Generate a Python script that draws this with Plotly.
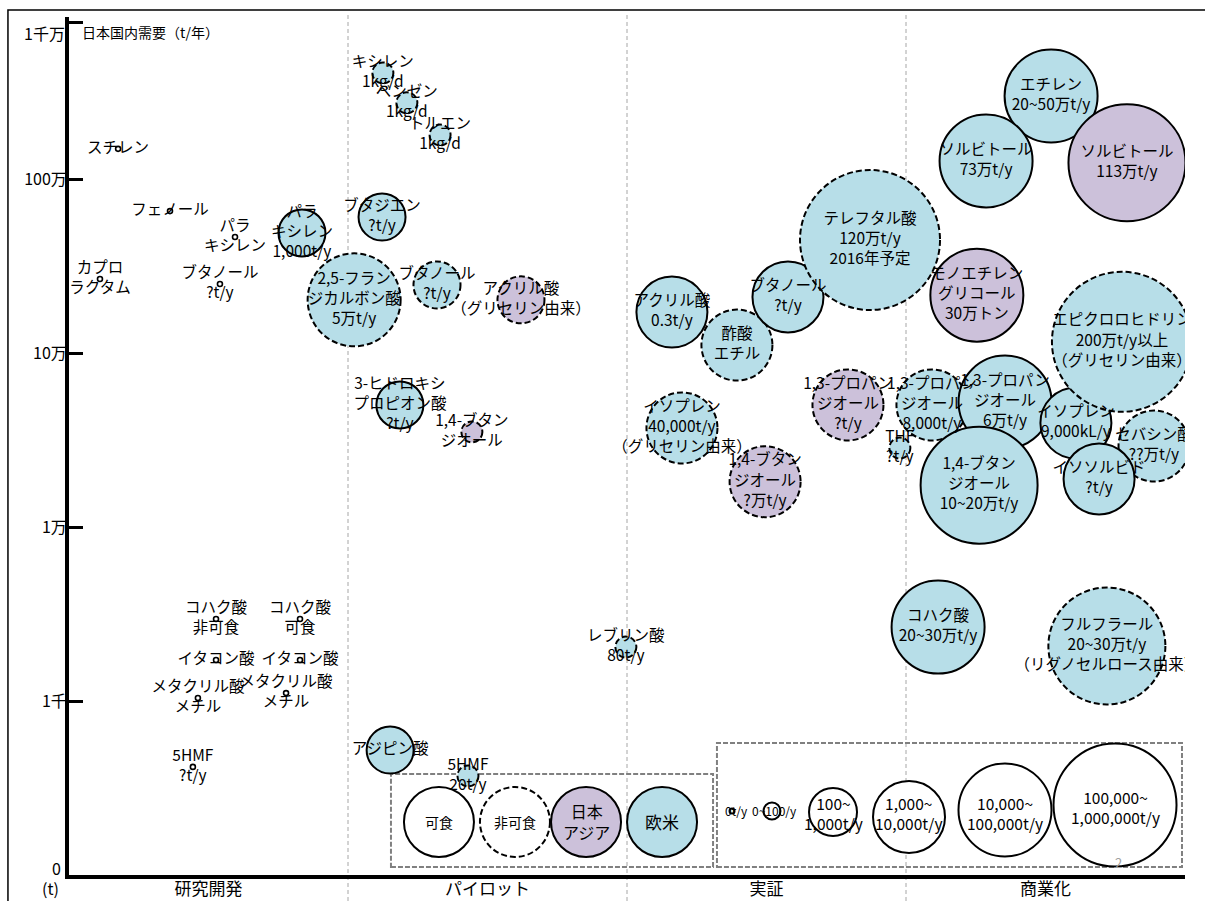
import plotly.graph_objects as go

# ---------------- data ----------------
stages = ["研究開発", "パイロット", "実証", "商業化"]
stage_pos = [0.5, 1.5, 2.5, 3.5]

ytick_vals = [1e3, 1e4, 1e5, 1e6, 10 ** 6.9]
ytick_text = ["1千", "1万", "10万", "100万", ""]

# research-stage items (plotted as small dots)
rd_labels = ["スチレン", "フェノール", "パラ<br>キシレン", "ブタノール<br>?t/y", "カプロ<br>ラクタム",
             "コハク酸<br>非可食", "コハク酸<br>可食", "イタコン酸", "イタコン酸",
             "メタクリル酸<br>メチル", "メタクリル酸<br>メチル", "5HMF<br>?t/y"]
rd_stage = [0.176, 0.362, 0.595, 0.541, 0.111, 0.527, 0.828, 0.527, 0.828, 0.462, 0.778, 0.444]
rd_demand = [1490000, 654000, 464000, 249000, 266000, 2960, 2960, 1720, 1720, 1040, 1110, 418]

# bubbles
b_labels = [
    "キシレン<br>1kg/d", "ベンゼン<br>1kg/d", "トルエン<br>1kg/d", "ブタジエン<br>?t/y",
    "パラ<br>キシレン<br>1,000t/y", "2,5-フラン<br>ジカルボン酸<br>5万t/y", "ブタノール<br>?t/y",
    "アクリル酸<br>（グリセリン由来）", "3-ヒドロキシ<br>プロピオン酸<br>?t/y", "1,4-ブタン<br>ジオール",
    "アジピン酸", "5HMF<br>20t/y",
    "アクリル酸<br>0.3t/y", "酢酸<br>エチル", "ブタノール<br>?t/y", "テレフタル酸<br>120万t/y<br>2016年予定",
    "イソプレン<br>40,000t/y<br>（グリセリン由来）", "1,4-ブタン<br>ジオール<br>?万t/y",
    "1,3-プロパン<br>ジオール<br>?t/y", "レブリン酸<br>80t/y",
    "THF<br>?t/y", "1,3-プロパン<br>ジオール<br>8,000t/y", "1,3-プロパン<br>ジオール<br>6万t/y",
    "1,4-ブタン<br>ジオール<br>10~20万t/y", "イソプレン<br>9,000kL/y", "セバシン酸<br>??万t/y",
    "イソソルビド<br>?t/y", "エピクロロヒドリン<br>200万t/y以上<br>（グリセリン由来）",
    "モノエチレン<br>グリコール<br>30万トン", "エチレン<br>20~50万t/y", "ソルビトール<br>73万t/y",
    "ソルビトール<br>113万t/y", "コハク酸<br>20~30万t/y", "フルフラール<br>20~30万t/y<br>（リグノセルロース由来）",
]
b_stage = [1.125, 1.211, 1.330, 1.122, 0.835, 1.022, 1.319, 1.620, 1.186, 1.444, 1.151, 1.430,
           2.161, 2.394, 2.577, 2.871, 2.197, 2.495, 2.792, 1.996,
           2.978, 3.093, 3.355, 3.262, 3.609, 3.889, 3.692, 3.774, 3.254, 3.520, 3.287, 3.792,
           3.115, 3.720]
b_demand = [4070000, 2740000, 1790000, 605000, 490000, 202000, 246000, 202000, 50300, 35200, 523, 371,
            172000, 111000, 210000, 446000, 37100, 18200, 50300, 2040,
            28400, 50300, 52200, 17400, 39600, 29200, 18900, 116000, 215000, 3000000, 1270000, 1240000,
            2660, 2070]
# production scale class (see size legend)
b_scale = [1, 1, 1, 2, 2, 4, 2, 2, 2, 1, 2, 1,
           3, 3, 3, 6, 3, 3, 3, 1,
           1, 3, 4, 5, 3, 3, 3, 6, 4, 4, 4, 5,
           4, 5]
# region: "JA" = 日本・アジア, "EU" = 欧米
b_region = ["EU", "EU", "EU", "EU", "EU", "EU", "EU", "JA", "EU", "JA", "EU", "EU",
            "EU", "EU", "EU", "EU", "EU", "JA", "JA", "EU",
            "EU", "EU", "EU", "EU", "EU", "EU", "EU", "EU", "JA", "EU", "EU", "JA",
            "EU", "EU"]
# feedstock: True = 可食 (solid), False = 非可食 (dashed)
b_edible = [False, False, False, True, True, False, False, False, True, False, True, False,
            True, False, True, False, False, False, False, False,
            False, False, True, True, True, False, True, False, True, True, True, True,
            True, False]

legend_feed = ["可食", "非可食", "日本<br>アジア", "欧米"]
legend_scale = ["0t/y", "0~100/y", "100~<br>1,000t/y", "1,000~<br>10,000t/y",
                "10,000~<br>100,000t/y", "100,000~<br>1,000,000t/y"]

# ---------------- style / layout ----------------
FONT = "Noto Sans CJK JP"
BLUE = "#B7DEE8"
PURPLE = "#CCC1DA"
DASH = "6px,3px"
LABEL_SIZE = 15.5
W, H = 1205, 901
ML, MR, MT, MB = 69, 20, 17, 26
X_RANGE = [0, 4]
Y_RANGE = [2, 6.931]
PX_PER_X = (W - ML - MR) / (X_RANGE[1] - X_RANGE[0])
PX_PER_DEC = (H - MT - MB) / (Y_RANGE[1] - Y_RANGE[0])
size_px = {1: 21, 2: 47, 3: 71, 4: 93, 5: 117, 6: 140}

shapes = []

# outer frame
shapes.append(dict(type="rect", xref="paper", yref="paper", x0=-0.0547, x1=1.2, y0=-0.3, y1=1.0082,
                   line=dict(color="black", width=1.5), fillcolor="rgba(0,0,0,0)", layer="below"))
# stage separators
for sx in [1, 2, 3]:
    shapes.append(dict(type="line", xref="x", yref="paper", x0=sx, x1=sx, y0=-0.0303, y1=1.0023,
                       line=dict(color="#A6A6A6", width=1, dash="4px,3px"), layer="below"))

# bubbles (circles sized in pixels, placed on the data axes)
for s, d, sc, reg, ed in zip(b_stage, b_demand, b_scale, b_region, b_edible):
    r = size_px[sc] / 2
    dx = r / PX_PER_X
    ddec = r / PX_PER_DEC
    shapes.append(dict(type="circle", xref="x", yref="y",
                       x0=s - dx, x1=s + dx, y0=d / 10 ** ddec, y1=d * 10 ** ddec,
                       fillcolor=PURPLE if reg == "JA" else BLUE,
                       line=dict(color="black", width=2, dash="solid" if ed else DASH),
                       layer="below"))

# legend boxes
shapes.append(dict(type="rect", xref="paper", yref="paper", x0=0.2885, x1=0.5771, y0=0.0093, y1=0.1177,
                   line=dict(color="#808080", width=2, dash="5px,2px"), layer="below"))
shapes.append(dict(type="rect", xref="paper", yref="paper", x0=0.5806, x1=0.9973, y0=0.0093, y1=0.1538,
                   line=dict(color="#808080", width=2, dash="5px,2px"), layer="below"))


def note(x, y, text, size, color="black", xanchor="center"):
    return dict(x=x, y=y, xref="paper", yref="paper", text=text, showarrow=False,
                xanchor=xanchor, yanchor="middle",
                font=dict(size=size, color=color, family=FONT))


# legend: feedstock / region
feed_x = [0.3315, 0.3996, 0.4633, 0.5314]
feed_fill = ["white", "white", PURPLE, BLUE]
feed_dash = ["solid", DASH, "solid", "solid"]
feed_font = [14, 14, 16, 17]
annotations = []
for fx, ff, fd, lab, fs in zip(feed_x, feed_fill, feed_dash, legend_feed, feed_font):
    shapes.append(dict(type="circle", xref="paper", yref="paper", xsizemode="pixel", ysizemode="pixel",
                       xanchor=fx, yanchor=0.0618, x0=-35, x1=35, y0=-35, y1=35,
                       fillcolor=ff, line=dict(color="black", width=2, dash=fd), layer="below"))
    annotations.append(note(fx, 0.0618, lab, fs))

# legend: scale
sc_x = [0.5941, 0.6299, 0.6846, 0.7527, 0.8387, 0.9373]
sc_y = [0.0746, 0.0746, 0.0734, 0.0676, 0.0758, 0.0816]
sc_d = [5, 17, 48, 72, 93, 123]
sc_tx = [0.5977, 0.6326, 0.6846, 0.7527, 0.8387, 0.9373]
sc_ty = [0.0746, 0.0746, 0.0723, 0.0723, 0.0723, 0.0793]
sc_fs = [12, 12, 15.5, 15.5, 15.5, 15.5]
for x_, y_, d_, tx, ty, lab, fs in zip(sc_x, sc_y, sc_d, sc_tx, sc_ty, legend_scale, sc_fs):
    shapes.append(dict(type="circle", xref="paper", yref="paper", xsizemode="pixel", ysizemode="pixel",
                       xanchor=x_, yanchor=y_, x0=-d_ / 2, x1=d_ / 2, y0=-d_ / 2, y1=d_ / 2,
                       fillcolor="white", line=dict(color="black", width=2), layer="below"))
    annotations.append(note(tx, ty, lab, fs))

annotations += [
    note(0.0099, 0.9825, "日本国内需要（t/年）", 14, xanchor="left"),
    note(-0.0018, 0.9814, "1千万", 16, xanchor="right"),
    note(-0.0108, 0.0082, "0", 16),
    note(-0.017, -0.0152, "(t)", 16),
    note(0.9400, 0.0140, "2", 13, color="#A0A0A0"),
]

fig = go.Figure()
fig.add_trace(go.Scatter(
    x=rd_stage, y=rd_demand, mode="markers+text", text=rd_labels, textposition="middle center",
    marker=dict(symbol="circle-open", size=5, color="black", line=dict(width=1.6, color="black")),
    textfont=dict(size=LABEL_SIZE, color="black", family=FONT), hoverinfo="text", showlegend=False))
fig.add_trace(go.Scatter(
    x=b_stage, y=b_demand, mode="text", text=b_labels, textposition="middle center",
    textfont=dict(size=LABEL_SIZE, color="black", family=FONT), hoverinfo="text", showlegend=False))

fig.update_layout(
    width=W, height=H,
    margin=dict(l=ML, r=MR, t=MT, b=MB, autoexpand=False),
    paper_bgcolor="white", plot_bgcolor="white",
    font=dict(family=FONT, size=15, color="black"),
    shapes=shapes, annotations=annotations, showlegend=False,
    xaxis=dict(range=X_RANGE, showgrid=False, zeroline=False, showline=True, linecolor="black",
               linewidth=4, tickvals=stage_pos, ticktext=stages, ticks="", automargin=False,
               ticklabelstandoff=-4,
               tickfont=dict(size=17, family=FONT, color="black")),
    yaxis=dict(type="log", range=Y_RANGE, showgrid=False, zeroline=False, showline=True,
               linecolor="black", linewidth=4, tickvals=ytick_vals, ticktext=ytick_text,
               ticks="inside", ticklen=14, tickwidth=3, tickcolor="black", automargin=False,
               ticklabelstandoff=-5,
               tickfont=dict(size=16, family=FONT, color="black")),
)

fig.write_html("out.html", config={"displayModeBar": False},
               post_script="document.body.style.margin='0';document.body.style.overflow='hidden';")
